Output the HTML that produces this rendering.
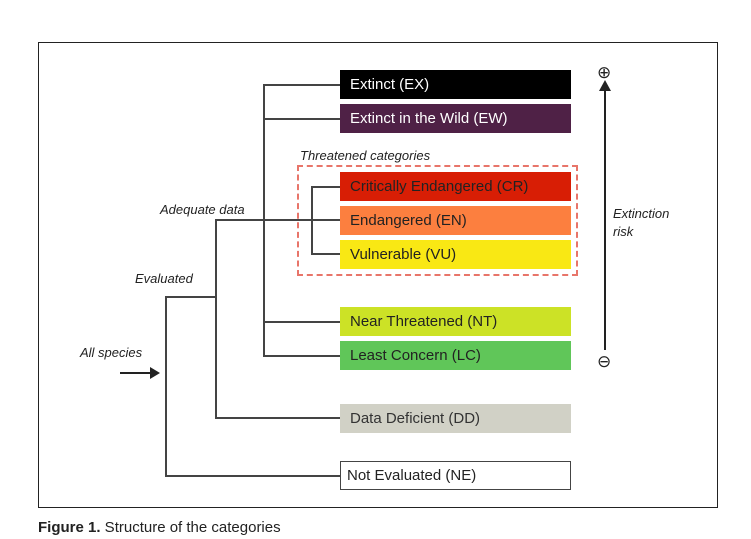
<!DOCTYPE html>
<html><head><style>
body{margin:0;width:751px;height:539px;background:#fff;font-family:"Liberation Sans",sans-serif;position:relative;overflow:hidden}
.f{position:absolute;left:38px;top:42px;width:680px;height:466px;border:1.5px solid #222;box-sizing:border-box}
.b{position:absolute;left:340px;width:231px;height:29px;box-sizing:border-box;font-size:15px;line-height:29px;padding-left:10px;color:#fff}
.t{position:absolute;font-style:italic;font-size:13px;color:#222}
.l{position:absolute;background:#444}
</style></head><body>
<div class="f"></div>
<div class="l" style="left:263px;top:84px;width:2px;height:273px"></div>
<div class="l" style="left:263px;top:84px;width:77px;height:2px"></div>
<div class="l" style="left:263px;top:118px;width:77px;height:2px"></div>
<div class="l" style="left:263px;top:321px;width:77px;height:2px"></div>
<div class="l" style="left:263px;top:355px;width:77px;height:2px"></div>
<div class="l" style="left:215px;top:219px;width:125px;height:2px"></div>
<div class="l" style="left:215px;top:219px;width:2px;height:200px"></div>
<div class="l" style="left:215px;top:417px;width:125px;height:2px"></div>
<div class="l" style="left:311px;top:186px;width:2px;height:69px"></div>
<div class="l" style="left:311px;top:186px;width:29px;height:2px"></div>
<div class="l" style="left:311px;top:253px;width:29px;height:2px"></div>
<div class="l" style="left:165px;top:296px;width:52px;height:2px"></div>
<div class="l" style="left:165px;top:296px;width:2px;height:181px"></div>
<div class="l" style="left:165px;top:475px;width:175px;height:2px"></div>
<div class="l" style="left:120px;top:372px;width:32px;height:2px;background:#222"></div>
<div style="position:absolute;left:150px;top:367px;border-left:10px solid #222;border-top:6px solid transparent;border-bottom:6px solid transparent"></div>
<div style="position:absolute;left:297px;top:165px;width:281px;height:111px;border:2px dashed #e8756a;box-sizing:border-box"></div>
<div class="b" style="top:70px;background:#000">Extinct (EX)</div>
<div class="b" style="top:104px;background:#4f2146">Extinct in the Wild (EW)</div>
<div class="b" style="top:172px;background:#d81e05;color:#222">Critically Endangered (CR)</div>
<div class="b" style="top:206px;background:#fc7f3f;color:#222">Endangered (EN)</div>
<div class="b" style="top:240px;background:#f9e814;color:#222">Vulnerable (VU)</div>
<div class="b" style="top:307px;background:#cce226;color:#222">Near Threatened (NT)</div>
<div class="b" style="top:341px;background:#60c659;color:#222">Least Concern (LC)</div>
<div class="b" style="top:404px;background:#d1d1c6;color:#333">Data Deficient (DD)</div>
<div class="b" style="top:461px;background:#fff;border:1px solid #444;color:#222;padding-left:6px;line-height:27px">Not Evaluated (NE)</div>
<div class="t" style="left:300px;top:148px">Threatened categories</div>
<div class="t" style="left:160px;top:202px">Adequate data</div>
<div class="t" style="left:135px;top:271px">Evaluated</div>
<div class="t" style="left:80px;top:345px">All species</div>
<div class="t" style="left:613px;top:205px;line-height:18px">Extinction<br>risk</div>
<div class="l" style="left:604px;top:90px;width:2px;height:260px;background:#222"></div>
<div style="position:absolute;left:599px;top:80px;border-bottom:11px solid #222;border-left:6px solid transparent;border-right:6px solid transparent"></div>
<div style="position:absolute;left:597px;top:63px;font-size:17px;color:#222">⊕</div>
<div style="position:absolute;left:597px;top:352px;font-size:17px;color:#222">⊖</div>
<div style="position:absolute;left:38px;top:519px;font-size:15px;color:#222"><b>Figure 1.</b> Structure of the categories</div>
</body></html>
